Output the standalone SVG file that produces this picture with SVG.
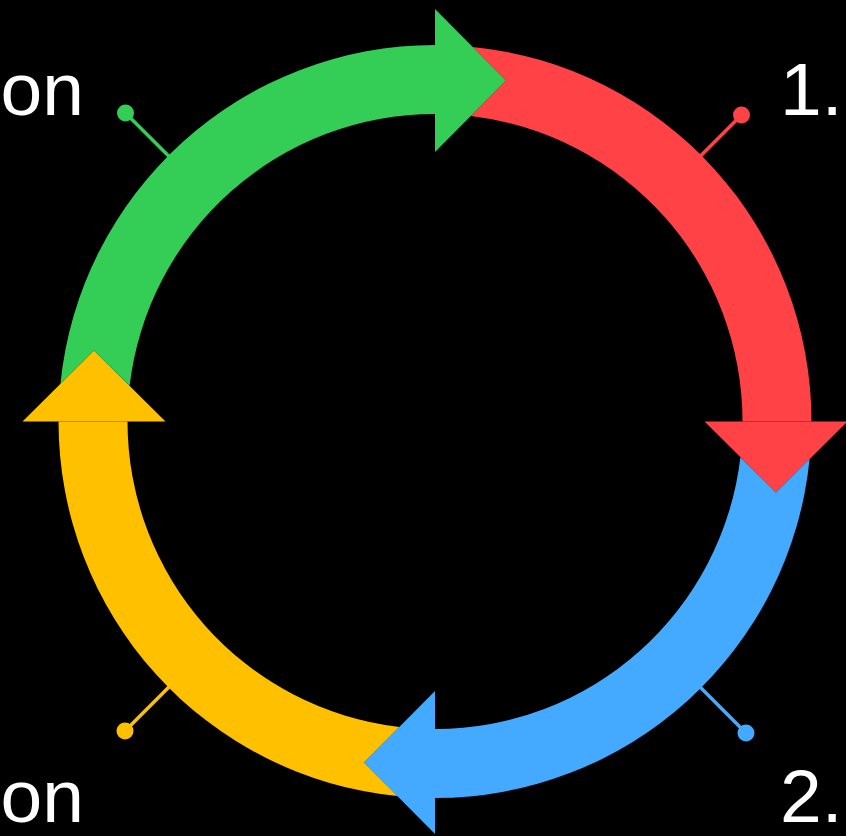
<svg xmlns="http://www.w3.org/2000/svg" width="846" height="836" viewBox="0 0 846 836">
  <style>
    .lbl { font-family: "Liberation Sans", Arial, sans-serif; font-size: 75px; fill: #FFFFFF; }
    .lead { stroke-width: 3.5; fill: none; }
    .red { fill: #FF4245; }
    .blue { fill: #44AAFF; }
    .yellow { fill: #FFC000; }
    .green { fill: #34CE57; }
  </style>
  <defs>
    <path id="seg" d="M 472.6,46.9 A 376.5 376.5 0 0 1 811.5,421.5 L 742.5,421.5 A 307.5 307.5 0 0 0 470.7,116.1 L 506,80.5 Z"/>
    <path id="head" d="M 704.5,421.5 L 847.5,421.5 L 776,492.5 Z"/>
  </defs>
  <rect x="0" y="0" width="846" height="836" fill="#000000"/>

  <g id="connectors">
    <line class="lead" x1="125.5" y1="113" x2="171.6" y2="158.9" stroke="#34CE57"/>
    <circle cx="125.5" cy="113" r="8.5" class="green"/>
    <line class="lead" x1="741.5" y1="115" x2="698" y2="158.5" stroke="#FF4245"/>
    <circle cx="741.5" cy="115" r="8.5" class="red"/>
    <line class="lead" x1="746" y1="733" x2="697.8" y2="684.7" stroke="#44AAFF"/>
    <circle cx="746" cy="733" r="8.5" class="blue"/>
    <line class="lead" x1="125" y1="731" x2="171.7" y2="684.3" stroke="#FFC000"/>
    <circle cx="125" cy="731" r="8.5" class="yellow"/>
  </g>

  <g id="step1" class="red">
    <use href="#seg"/>
    <use href="#head"/>
  </g>
  <g id="step2" class="blue" transform="rotate(90 435 421.5)">
    <use href="#seg"/>
    <use href="#head"/>
  </g>
  <g id="step3" class="yellow" transform="rotate(180 435 421.5)">
    <use href="#seg"/>
    <use href="#head"/>
  </g>
  <g id="step4" class="green" transform="rotate(270 435 421.5)">
    <use href="#seg"/>
    <use href="#head"/>
  </g>

  <g id="labels">
    <text class="lbl" x="780" y="115">1.</text>
    <text class="lbl" x="780" y="822">2.</text>
    <text class="lbl" x="84" y="822" text-anchor="end">on</text>
    <text class="lbl" x="84" y="115" text-anchor="end">on</text>
  </g>
</svg>
